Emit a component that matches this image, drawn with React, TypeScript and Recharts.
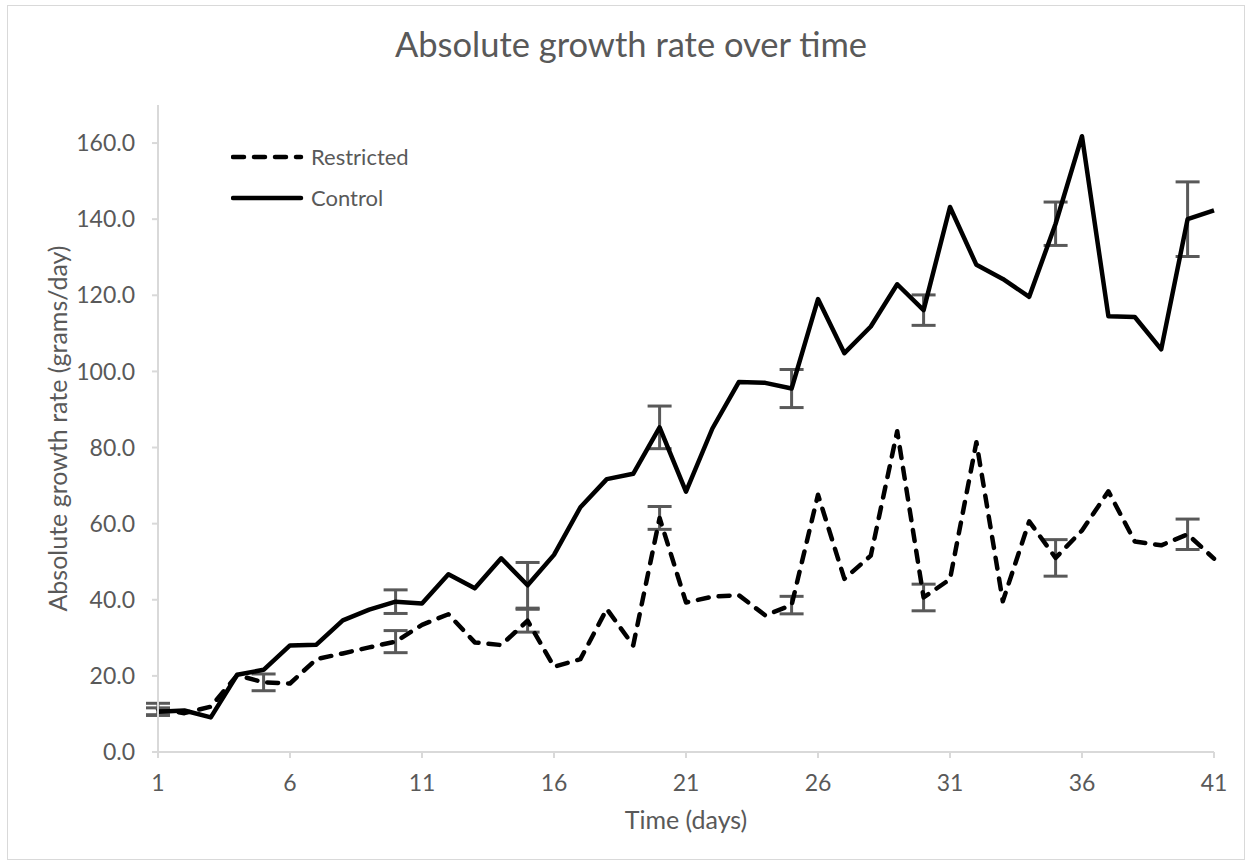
import React from 'react';
import { LineChart, Line, XAxis, YAxis, ErrorBar, Legend } from 'recharts';

const FONT = 'Lato, "Open Sans", sans-serif';
const TEXT = '#595959';
const AXIS = '#d9d9d9';

const days = [1, 2, 3, 4, 5, 6, 7, 8, 9, 10, 11, 12, 13, 14, 15, 16, 17, 18, 19, 20, 21, 22, 23, 24, 25, 26, 27, 28, 29, 30, 31, 32, 33, 34, 35, 36, 37, 38, 39, 40, 41];

const restricted = [11.3, 10.2, 11.9, 20.2, 18.3, 18.0, 24.4, 25.9, 27.5, 29.0, 33.4, 36.2, 28.8, 28.1, 34.5, 22.4, 24.4, 37.6, 28.0, 61.5, 39.3, 40.8, 41.2, 35.9, 38.6, 67.6, 45.5, 51.6, 84.3, 40.6, 45.4, 81.4, 39.6, 60.6, 51.0, 58.2, 68.5, 55.3, 54.3, 57.2, 50.8];

const control = [10.6, 10.9, 9.1, 20.3, 21.6, 28.0, 28.2, 34.6, 37.4, 39.5, 39.0, 46.7, 43.0, 50.9, 43.8, 51.8, 64.3, 71.7, 73.1, 85.3, 68.4, 85.0, 97.2, 97.0, 95.5, 119.0, 104.8, 111.8, 122.9, 116.1, 143.2, 128.0, 124.3, 119.6, 138.8, 161.8, 114.5, 114.3, 105.8, 140.0, 142.3];

const restrictedErr = [1.5, null, null, null, 2.2, null, null, null, null, 2.9, null, null, null, null, 3.0, null, null, null, null, 3.0, null, null, null, null, 2.3, null, null, null, null, 3.5, null, null, null, null, 4.8, null, null, null, null, 4.0, null];

const controlErr = [1.0, null, null, null, null, null, null, null, null, 3.1, null, null, null, null, 6.0, null, null, null, null, 5.6, null, null, null, null, 5.0, null, null, null, null, 4.0, null, null, null, null, 5.7, null, null, null, null, 9.8, null];

const xTicks = [1, 6, 11, 16, 21, 26, 31, 36, 41];
const yTicks = [0, 20, 40, 60, 80, 100, 120, 140, 160];
const legendOrder = ['Restricted', 'Control'];

const DASH = '11 10';

const data = days.map((d, i) => ({
  day: d,
  restricted: restricted[i],
  control: control[i],
  restrictedErr: restrictedErr[i],
  controlErr: controlErr[i],
}));

const dashFor: Record<string, string | undefined> = { Restricted: DASH, Control: undefined };

const LegendContent = (props: any) => {
  const payload = ((props.payload || []) as any[]).slice().sort(
    (a, b) => legendOrder.indexOf(a.value) - legendOrder.indexOf(b.value)
  );
  return (
    <div style={{ fontFamily: FONT }}>
      {payload.map((entry, i) => (
        <div key={i} style={{ display: 'flex', alignItems: 'center', height: 41 }}>
          <svg width={80} height={10} style={{ display: 'block' }}>
            <line x1={2} y1={5} x2={70} y2={5} stroke="#000" strokeWidth={4.5}
              strokeDasharray={dashFor[entry.value]} strokeLinecap="round" />
          </svg>
          <span style={{ fontSize: 22, color: TEXT, lineHeight: '22px' }}>{entry.value}</span>
        </div>
      ))}
    </div>
  );
};

export default function App() {
  return (
    <div style={{ position: 'absolute', left: 0, top: 0, width: 1253, height: 866, background: '#fff', fontFamily: FONT }}>
      <div style={{ position: 'absolute', left: 7, top: 5, width: 1238, height: 855, border: `1.5px solid ${AXIS}`, boxSizing: 'border-box' }} />
      <div style={{ position: 'absolute', left: 0, top: 27, width: 1262, textAlign: 'center', fontSize: 34.5, lineHeight: '34.5px', color: TEXT }}>
        Absolute growth rate over time
      </div>
      <div style={{ position: 'absolute', left: 0, top: 0 }}>
        <LineChart width={1253} height={866} data={data} margin={{ top: 105, right: 39, bottom: 0, left: 0 }}>
          <XAxis
            dataKey="day"
            type="number"
            domain={[1, 41]}
            ticks={xTicks}
            height={114}
            stroke={AXIS}
            strokeWidth={2}
            tickSize={6}
            tickMargin={17}
            tick={{ fill: TEXT, fontSize: 23, fontFamily: FONT }}
            label={{ value: 'Time (days)', position: 'center', dy: 11, fill: TEXT, fontSize: 25, fontFamily: FONT }}
          />
          <YAxis
            type="number"
            domain={[0, 170]}
            ticks={yTicks}
            width={158}
            stroke={AXIS}
            strokeWidth={2}
            tickSize={6}
            tickMargin={17}
            tickFormatter={(v: number) => v.toFixed(1)}
            tick={{ fill: TEXT, fontSize: 23, fontFamily: FONT }}
            label={{ value: 'Absolute growth rate (grams/day)', angle: -90, position: 'center', dx: -21, fill: TEXT, fontSize: 25, fontFamily: FONT }}
          />
          <Legend
            layout="vertical"
            align="center"
            verticalAlign="middle"
            content={LegendContent}
            wrapperStyle={{ left: 231, top: 136, width: 'auto' }}
          />
          <Line
            name="Restricted"
            dataKey="restricted"
            stroke="#000"
            strokeWidth={4.5}
            strokeDasharray={DASH}
            strokeLinecap="round"
            strokeLinejoin="round"
            dot={false}
            activeDot={false}
            isAnimationActive={false}
          >
            <ErrorBar dataKey="restrictedErr" direction="y" width={12} stroke="#595959" strokeWidth={3} isAnimationActive={false} />
          </Line>
          <Line
            name="Control"
            dataKey="control"
            stroke="#000"
            strokeWidth={4.5}
            strokeLinejoin="round"
            dot={false}
            activeDot={false}
            isAnimationActive={false}
          >
            <ErrorBar dataKey="controlErr" direction="y" width={12} stroke="#595959" strokeWidth={3} isAnimationActive={false} />
          </Line>
        </LineChart>
      </div>
    </div>
  );
}
